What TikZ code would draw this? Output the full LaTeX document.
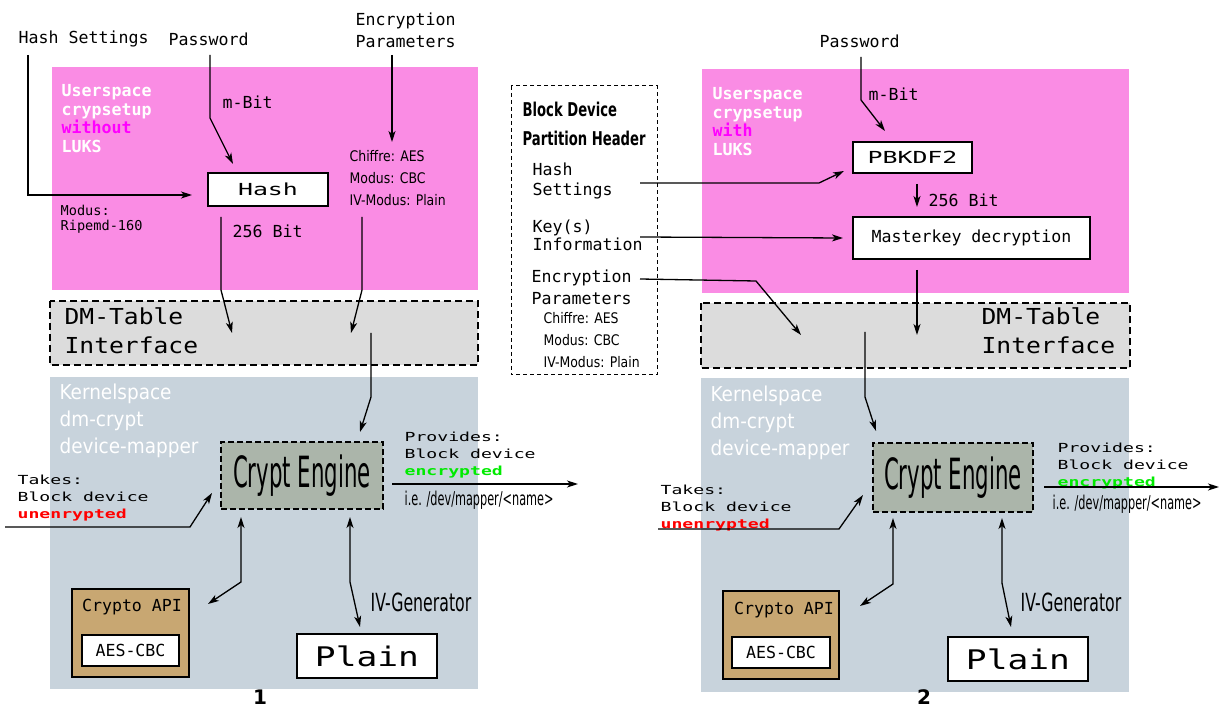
\documentclass[tikz,border=0pt]{standalone}
\usepackage{fontspec}
\setmainfont{DejaVu Sans}
\setmonofont{DejaVu Sans Mono}
\newfontfamily\widemono[FakeStretch=1.5]{DejaVu Sans Mono}
\newfontfamily\stretchmono[FakeStretch=1.45]{DejaVu Sans Mono}
\newfontfamily\bigmono[FakeStretch=1.12]{DejaVu Sans Mono}
\newfontfamily\plainmono[FakeStretch=1.28]{DejaVu Sans Mono}
\newfontfamily\condsans[FakeStretch=0.95]{DejaVu Sans Condensed}
\newfontfamily\hdrsans[FakeStretch=0.77]{DejaVu Sans Condensed}
\newfontfamily\narrowsans[FakeStretch=0.66]{DejaVu Sans Condensed}
\newfontfamily\enginesans[FakeStretch=0.55]{DejaVu Sans Condensed}
\newfontfamily\ivsans[FakeStretch=0.70]{DejaVu Sans Condensed}
\newfontfamily\kernsans{DejaVu Sans Condensed}
\usetikzlibrary{arrows.meta,positioning}

\definecolor{userpink}{RGB}{250,140,228}
\definecolor{kernelgray}{RGB}{200,211,220}
\definecolor{tablegray}{RGB}{220,220,220}
\definecolor{enginegray}{RGB}{171,181,170}
\definecolor{apitan}{RGB}{200,167,114}
\definecolor{lukspink}{RGB}{255,0,255}
\definecolor{okgreen}{RGB}{0,235,0}
\definecolor{alertred}{RGB}{255,0,0}

\tikzset{
  arrow/.style={-{Stealth[length=11pt,width=7pt,inset=3pt]}},
  both/.style={{Stealth[length=11pt,width=7pt,inset=3pt]}-{Stealth[length=11pt,width=7pt,inset=3pt]}},
  txt/.style={inner sep=0pt,anchor=west,font=\ttfamily\fontsize{16.6}{19}\selectfont},
  mltxt/.style={inner sep=0pt,anchor=north west,align=left,font=\ttfamily\fontsize{16.6}{#1}\selectfont},
  usertxt/.style={inner sep=0pt,anchor=north west,align=left,text=white,
    font=\ttfamily\bfseries\fontsize{16.6}{18.6}\selectfont},
  condtxt/.style={inner sep=0pt,anchor=north west,align=left,font=\condsans\fontsize{14.6}{22}\selectfont},
  smalltxt/.style={inner sep=0pt,anchor=north west,align=left,font=\ttfamily\fontsize{13.6}{15}\selectfont},
  tabletxt/.style={inner sep=0pt,anchor=north west,align=left,font=\bigmono\fontsize{22}{29}\selectfont},
  kerntxt/.style={inner sep=0pt,anchor=north west,align=left,text=white,font=\kernsans\fontsize{20.5}{27}\selectfont},
  widetxt/.style={inner sep=0pt,anchor=north west,align=left,font=\stretchmono\fontsize{12.5}{17}\selectfont},
  narrowtxt/.style={inner sep=0pt,anchor=west,font=\narrowsans\fontsize{19}{22}\selectfont},
  ivtxt/.style={inner sep=0pt,anchor=west,font=\ivsans\fontsize{25}{28}\selectfont},
  keybox/.style={draw,line width=2pt,fill=white,inner sep=0pt,font=\ttfamily\fontsize{16.6}{19}\selectfont},
  engine/.style={draw,line width=2.2pt,dash pattern=on 6pt off 3pt,fill=enginegray,inner sep=0pt,
    minimum width=162pt,minimum height=67pt,font=\enginesans\fontsize{43}{45}\selectfont},
  apibox/.style={draw,line width=2.2pt,fill=apitan,minimum width=117pt,minimum height=88pt},
  plainbox/.style={draw,line width=2pt,fill=white,minimum width=140pt,minimum height=44pt,
    font=\plainmono\fontsize{27}{30}\selectfont},
  aesbox/.style={keybox,minimum width=97pt,minimum height=31pt},
  dmdash/.style={draw,line width=2.2pt,dash pattern=on 7pt off 4pt,fill=tablegray},
  panelno/.style={inner sep=0pt,anchor=north,font=\bfseries\fontsize{20}{20}\selectfont}
}

\begin{document}
\begin{tikzpicture}[x=1pt,y=-1pt,line width=1.3pt]
    \useasboundingbox (0,0) rectangle (1219,708);

    % Panel 1: without LUKS
    \fill[userpink] (52,67) rectangle (478,290);
    \fill[kernelgray] (50,377) rectangle (478,689);
    \draw[dmdash] (50,301) rectangle (478,365);
    \node[txt] (hs1) at (18,39) {Hash Settings};
    \node[txt] (pw1) at (168,39) {Password};
    \node[mltxt=22] (enc1) at (355,12) {Encryption\\Parameters};
    \node[usertxt] (us1) at (61,84) {Userspace\\crypsetup\\\textcolor{lukspink}{without}\\LUKS};
    \node[txt] (mb1) at (222,102) {m-Bit};
    \node[keybox,minimum width=120pt,minimum height=33pt,font=\widemono\fontsize{16.6}{19}\selectfont]
        (hash1) at (268,189.5) {Hash};
    \node[condtxt] (ci1) at (349,150) {Chiffre: AES\\Modus: CBC\\IV-Modus: Plain};
    \node[smalltxt] (ri1) at (60,205) {Modus:\\Ripemd-160};
    \node[txt] (b1) at (232,231) {256 Bit};
    \node[tabletxt] (dm1) at (64,307) {DM-Table\\Interface};
    \node[kerntxt] (ks1) at (59,383) {Kernelspace\\dm-crypt\\device-mapper};
    \node[engine] (eng1) at (302,475.5) {Crypt Engine};
    \node[widetxt] (pr1) at (404,431) {Provides:\\Block device\\\textbf{\textcolor{okgreen}{encrypted}}};
    \node[narrowtxt] (ie1) at (404,500) {i.e. /dev/mapper/<name>};
    \node[widetxt] (tk1) at (17,474) {Takes:\\Block device\\\textbf{\textcolor{alertred}{unenrypted}}};
    \node[ivtxt] (iv1) at (370,602) {IV-Generator};
    \node[apibox] (api1) at (130.5,633) {};
    \node[txt,anchor=center] (ca1) at (132,607) {Crypto API};
    \node[aesbox] (aes1) at (130.5,650.5) {AES-CBC};
    \node[plainbox] (pl1) at (367,656) {Plain};
    \node[panelno] (n1) at (260,689) {1};
    % Pfeile Panel 1
    \draw[arrow] (28,55) -- (28,195) -- ([xshift=-15pt]hash1.west |- 0,195);
    \draw[arrow] (210,55) -- (210,118) -- (233,164);
    \draw[arrow] (392,55) -- (392,142);
    \draw[arrow] (221,217) -- (221,290) -- (232,333);
    \draw[arrow] (362,217) -- (362,290) -- (351,333);
    \draw[arrow] (371,333) -- (371,397) -- (360,432);
    \draw[arrow] (392,484) -- (578,484);
    \draw[arrow] (5,527) -- (190,527) -- (212,493);
    \draw[both] (241,517) -- (241,582) -- (208,604);
    \draw[both] (350,517) -- (350,582) -- (360,627);

    % Partition header
    \draw[line width=1pt,dash pattern=on 4pt off 3pt] (511,86) rectangle (657,375);
    \node[inner sep=0pt,anchor=north west,align=left,font=\hdrsans\bfseries\fontsize{19}{29}\selectfont]
        (hd) at (522,101) {Block Device\\Partition Header};
    \node[mltxt=20] (hs2) at (532,162) {Hash\\Settings};
    \node[mltxt=18] (key2) at (532,219) {Key(s)\\Information};
    \node[mltxt=22] (enc2) at (531,269) {Encryption\\Parameters};
    \node[condtxt] (ci2) at (543,312) {Chiffre: AES\\Modus: CBC\\IV-Modus: Plain};

    % Panel 2: with LUKS
    \fill[userpink] (702,69) rectangle (1129,293);
    \fill[kernelgray] (701,378) rectangle (1129,692);
    \draw[dmdash] (701,303) rectangle (1130,368);
    \node[txt] (pw2) at (819,41) {Password};
    \node[usertxt] (us2) at (712,87) {Userspace\\crypsetup\\\textcolor{lukspink}{with}\\LUKS};
    \node[txt] (mb2) at (868,94) {m-Bit};
    \node[keybox,minimum width=119pt,minimum height=31pt,font=\widemono\fontsize{16.6}{19}\selectfont]
        (pbk) at (912.5,157.5) {PBKDF2};
    \node[txt] (b2) at (928,200) {256 Bit};
    \node[keybox,minimum width=237pt,minimum height=42pt] (mk) at (971.5,238) {Masterkey decryption};
    \node[tabletxt] (dm2) at (981,307) {DM-Table\\Interface};
    \node[kerntxt] (ks2) at (710,385) {Kernelspace\\dm-crypt\\device-mapper};
    \node[engine,minimum width=160pt,minimum height=69pt] (eng2) at (953,477.5) {Crypt Engine};
    \node[widetxt] (pr2) at (1057,442) {Provides:\\Block device\\\textbf{\textcolor{okgreen}{encrypted}}};
    \node[narrowtxt] (ie2) at (1052,504) {i.e. /dev/mapper/<name>};
    \node[widetxt] (tk2) at (660,484) {Takes:\\Block device\\\textbf{\textcolor{alertred}{unenrypted}}};
    \node[ivtxt] (iv2) at (1020,602) {IV-Generator};
    \node[apibox,minimum width=116pt] (api2) at (781,635) {};
    \node[txt,anchor=center] (ca2) at (784,610) {Crypto API};
    \node[aesbox,minimum width=98pt] (aes2) at (781,652.5) {AES-CBC};
    \node[plainbox] (pl2) at (1018,659) {Plain};
    \node[panelno] (n2) at (924,689) {2};
    % Pfeile Panel 2
    \draw[arrow] (861,57) -- (861,100) -- (885,131);
    \draw[arrow] (640,183) -- (819,183) -- (844,171);
    \draw[arrow] (640,237) -- ([xshift=-9pt]mk.west);
    \draw[arrow] (640,279) -- (756,281) -- (801,335);
    \draw[arrow] (917,184) -- (917,207);
    \draw[arrow] (917,270) -- (917,335);
    \draw[arrow] (865,332) -- (865,397) -- (876,431);
    \draw[arrow] (1044,487) -- (1219,487);
    \draw[arrow] (658,529) -- (839,529) -- (863,495);
    \draw[both] (893,518) -- (893,584) -- (860,606);
    \draw[both] (1002,518) -- (1002,583) -- (1011,627);
\end{tikzpicture}
\end{document}
